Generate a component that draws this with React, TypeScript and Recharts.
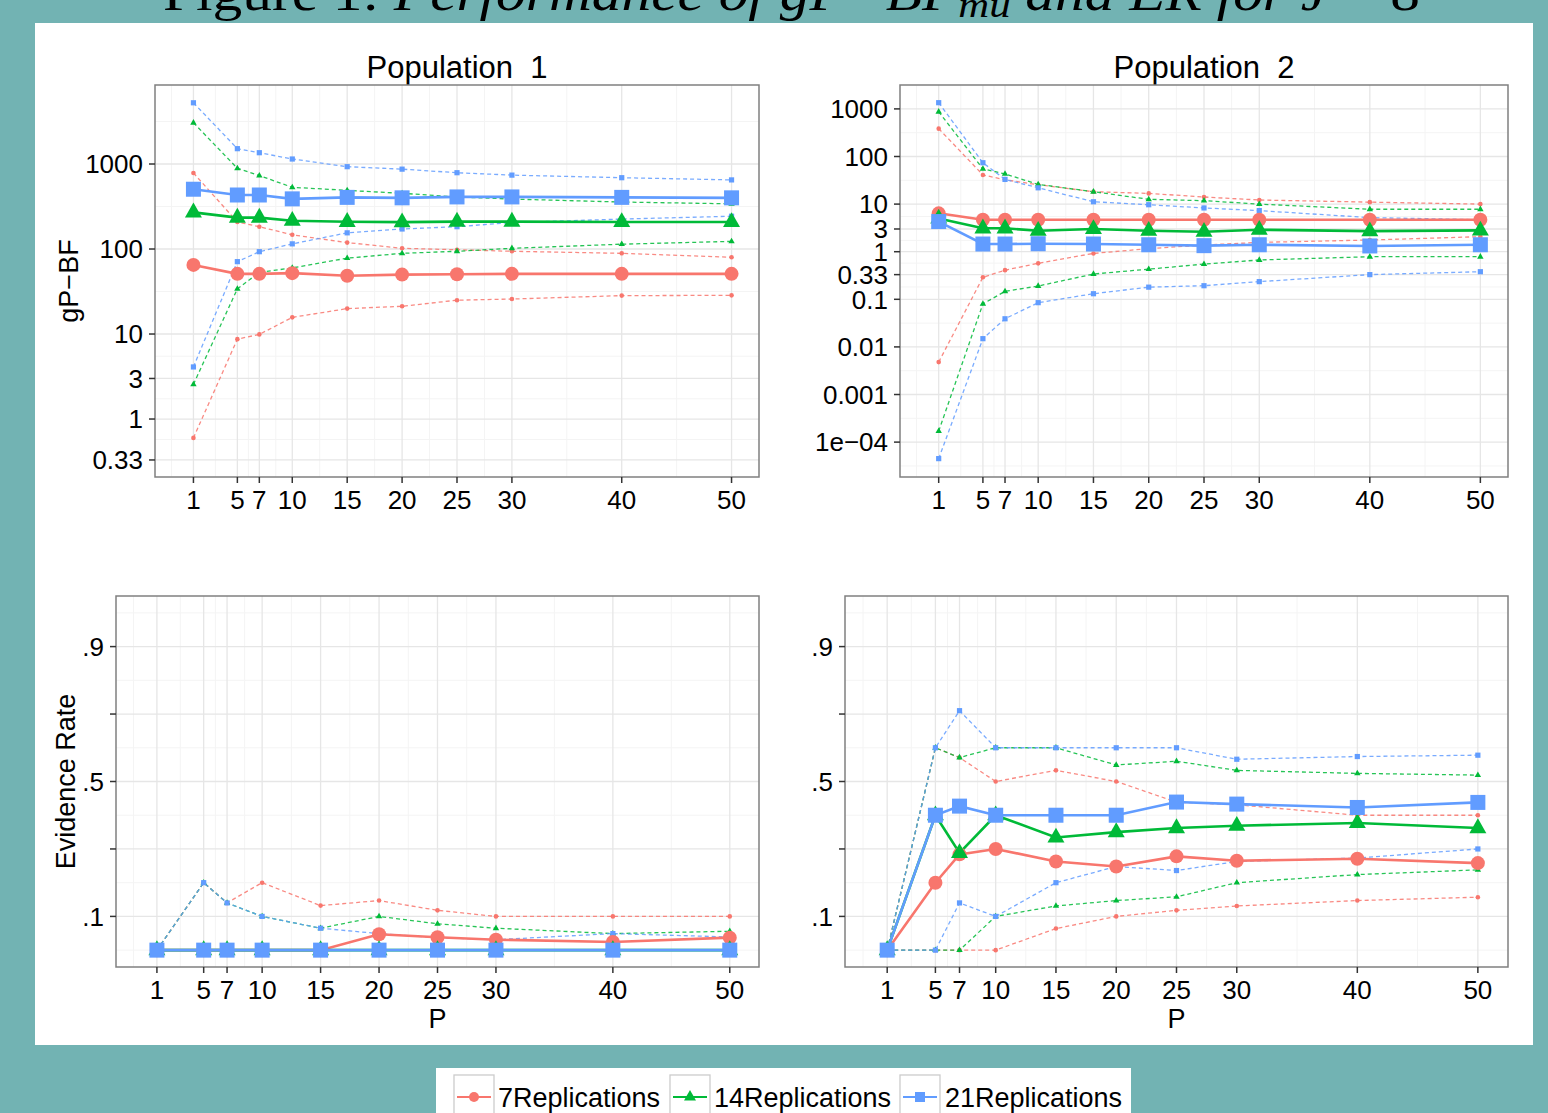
import React from "react";
import {
  LineChart,
  Line,
  XAxis,
  YAxis,
  CartesianGrid,
  ReferenceArea,
} from "recharts";

const FONT = '"Liberation Sans", Arial, Helvetica, sans-serif';
const TEAL = "#72B3B3";

const P = [1, 5, 7, 10, 15, 20, 25, 30, 40, 50];
const X_MINOR = [-1, 3, 6, 8.5, 12.5, 17.5, 22.5, 27.5, 35, 45];

const REPS = ["7Replications", "14Replications", "21Replications"];
const COLORS = ["#F8766D", "#00BA38", "#619CFF"];

// Population 1, gP-BF
const bf1Med7 = [65, 51, 51, 52, 48.5, 50, 50.5, 51, 51, 51];
const bf1Lo7 = [0.6, 8.7, 9.9, 15.7, 19.9, 21.2, 25, 25.8, 28.3, 28.5];
const bf1Hi7 = [784, 208, 183, 147, 119, 102, 98, 94, 89, 80];
const bf1Med14 = [270, 234, 234, 215, 209, 207, 210, 210, 208, 208];
const bf1Lo14 = [2.56, 34, 53, 60, 78, 89, 94, 102, 114, 123];
const bf1Hi14 = [3060, 890, 730, 532, 490, 452, 410, 387, 357, 340];
const bf1Med21 = [505, 432, 432, 389, 405, 400, 410, 410, 405, 400];
const bf1Lo21 = [4.1, 71, 93, 115, 155, 172, 183, 205, 225, 243];
const bf1Hi21 = [5250, 1515, 1358, 1145, 930, 870, 790, 740, 690, 650];

// Population 2, gP-BF
const bf2Med7 = [6.4, 4.7, 4.7, 4.7, 4.7, 4.7, 4.7, 4.7, 4.7, 4.7];
const bf2Lo7 = [0.0048, 0.29, 0.41, 0.57, 0.92, 1.16, 1.38, 1.57, 1.76, 2.07];
const bf2Hi7 = [385, 41, 32.5, 25.5, 18.2, 16.8, 14.1, 12.2, 11, 10];
const bf2Med14 = [5.0, 3.1, 3.1, 2.76, 3.0, 2.76, 2.63, 2.9, 2.7, 2.8];
const bf2Lo14 = [0.00017, 0.08, 0.147, 0.19, 0.34, 0.43, 0.55, 0.67, 0.785, 0.785];
const bf2Hi14 = [870, 55, 43, 26, 18.2, 12.6, 11.8, 10, 7.8, 7.8];
const bf2Med21 = [4.3, 1.45, 1.45, 1.47, 1.45, 1.4, 1.34, 1.4, 1.32, 1.4];
const bf2Lo21 = [0.000045, 0.0149, 0.039, 0.085, 0.131, 0.18, 0.193, 0.235, 0.33, 0.38];
const bf2Hi21 = [1350, 74, 33, 22, 11.2, 9.7, 8.3, 7.3, 5.2, 4.7];

// Population 1, evidence rate
const er1Med7 = [0, 0, 0, 0, 0, 0.047, 0.038, 0.031, 0.024, 0.037];
const er1Lo7 = [0, 0, 0, 0, 0, 0, 0, 0, 0, 0];
const er1Hi7 = [0, 0.2, 0.14, 0.2, 0.132, 0.147, 0.118, 0.1, 0.1, 0.1];
const er1Med14 = [0, 0, 0, 0, 0, 0, 0, 0, 0, 0];
const er1Lo14 = [0, 0, 0, 0, 0, 0, 0, 0, 0, 0];
const er1Hi14 = [0, 0.2, 0.14, 0.1, 0.065, 0.1, 0.078, 0.065, 0.049, 0.056];
const er1Med21 = [0, 0, 0, 0, 0, 0, 0, 0, 0, 0];
const er1Lo21 = [0, 0, 0, 0, 0, 0, 0, 0, 0, 0];
const er1Hi21 = [0, 0.2, 0.14, 0.1, 0.065, 0.049, 0.037, 0.031, 0.049, 0.039];

// Population 2, evidence rate
const er2Med7 = [0, 0.2, 0.284, 0.3, 0.263, 0.248, 0.278, 0.265, 0.271, 0.258];
const er2Lo7 = [0, 0, 0, 0, 0.064, 0.1, 0.118, 0.131, 0.147, 0.157];
const er2Hi7 = [0, 0.6, 0.571, 0.5, 0.533, 0.5, 0.439, 0.431, 0.4, 0.4];
const er2Med14 = [0, 0.4, 0.288, 0.4, 0.334, 0.35, 0.362, 0.369, 0.377, 0.362];
const er2Lo14 = [0, 0, 0, 0.1, 0.131, 0.147, 0.158, 0.2, 0.224, 0.238];
const er2Hi14 = [0, 0.6, 0.571, 0.6, 0.6, 0.549, 0.56, 0.533, 0.524, 0.519];
const er2Med21 = [0, 0.4, 0.427, 0.4, 0.4, 0.4, 0.439, 0.433, 0.423, 0.438];
const er2Lo21 = [0, 0, 0.14, 0.1, 0.2, 0.248, 0.236, 0.263, 0.273, 0.3];
const er2Hi21 = [0, 0.6, 0.71, 0.6, 0.6, 0.6, 0.6, 0.566, 0.574, 0.578];

// y axes
const BF1_TICKS = [0.33, 1, 3, 10, 100, 1000];
const BF1_MINOR = [0.575, 1.73, 5.48, 31.6, 316, 3162];
const BF2_TICKS = [0.0001, 0.001, 0.01, 0.1, 0.33, 1, 3, 10, 100, 1000];
const BF2_MINOR = [0.0000316, 0.000316, 0.00316, 0.0316, 0.182, 0.575, 1.73, 5.48, 31.6, 316];
const ER_TICKS = [0.1, 0.3, 0.5, 0.7, 0.9];
const ER_MINOR = [0, 0.2, 0.4, 0.6, 0.8, 1.0];

const bfLabel = (v: number) => (v === 0.0001 ? "1e\u221204" : String(v));
const erLabel = (v: number) =>
  v === 0.3 || v === 0.7 ? "" : "." + Math.round(v * 10);

type Stats = { med: number[]; lo: number[]; hi: number[] };

function buildRows(sets: Stats[]) {
  return P.map((p, i) => {
    const row: Record<string, number> = { p };
    sets.forEach((s, k) => {
      row["med" + k] = s.med[i];
      row["lo" + k] = s.lo[i];
      row["hi" + k] = s.hi[i];
    });
    return row;
  });
}

const BIG = [7, 8.5, 7.5];
const SMALL = [2.3, 3.2, 2.6];

function Glyph({ kind, x, y, s, color }: any) {
  if (kind === 0) return <circle cx={x} cy={y} r={s} fill={color} />;
  if (kind === 1)
    return (
      <polygon
        points={`${x},${y - s * 1.15} ${x - s},${y + s * 0.6} ${x + s},${y + s * 0.6}`}
        fill={color}
      />
    );
  return <rect x={x - s} y={y - s} width={2 * s} height={2 * s} fill={color} />;
}

function dotFor(kind: number, big: boolean) {
  return (props: any) => {
    const { cx, cy, index } = props;
    const key = `g-${kind}-${big ? "b" : "s"}-${index}`;
    if (cx == null || cy == null || isNaN(cx) || isNaN(cy)) return <g key={key} />;
    return (
      <Glyph
        key={key}
        kind={kind}
        x={cx}
        y={cy}
        s={big ? BIG[kind] : SMALL[kind]}
        color={COLORS[kind]}
      />
    );
  };
}

const M = 5;

function Panel({
  box,
  rows,
  log,
  yDomain,
  yTicks,
  yMinor,
  yFmt,
  yAxisW,
  yTitle,
  xTitle,
  xAxisH,
}: any) {
  const [x0, y0, x1, y1] = box;
  const width = x1 - x0 + yAxisW + 2 * M;
  const height = y1 - y0 + xAxisH + 2 * M;
  const tickStyle = { fontSize: 26, fill: "#000", fontFamily: FONT };
  return (
    <div
      style={{
        position: "absolute",
        left: x0 - yAxisW - M,
        top: y0 - M,
        width,
        height,
      }}
    >
      <LineChart
        width={width}
        height={height}
        data={rows}
        margin={{ top: M, right: M, bottom: M, left: M }}
      >
        <CartesianGrid
          stroke="#F4F4F4"
          strokeWidth={1}
          horizontalValues={yMinor}
          verticalValues={X_MINOR}
        />
        <CartesianGrid
          stroke="#E6E6E6"
          strokeWidth={1.3}
          horizontalValues={yTicks}
          verticalValues={P}
        />
        <XAxis
          dataKey="p"
          type="number"
          domain={[-2.5, 52.5]}
          allowDataOverflow
          ticks={P}
          interval={0}
          tickSize={6}
          tickMargin={8}
          axisLine={false}
          tickLine={{ stroke: "#333", strokeWidth: 1.5 }}
          tick={tickStyle}
          height={xAxisH}
          label={
            xTitle
              ? { value: xTitle, position: "center", fontSize: 27, fill: "#000", fontFamily: FONT, dy: 2 }
              : undefined
          }
        />
        <YAxis
          type="number"
          scale={log ? "log" : "linear"}
          domain={yDomain}
          allowDataOverflow
          ticks={yTicks}
          interval={0}
          tickFormatter={yFmt}
          tickSize={6}
          tickMargin={6}
          axisLine={false}
          tickLine={{ stroke: "#333", strokeWidth: 1.5 }}
          tick={tickStyle}
          width={yAxisW}
          label={
            yTitle
              ? {
                  value: yTitle,
                  angle: -90,
                  position: "center",
                  fontSize: 27,
                  fill: "#000",
                  fontFamily: FONT,
                }
              : undefined
          }
        />
        {[0, 1, 2].map((k) =>
          ["lo", "hi"].map((q) => (
            <Line
              key={q + k}
              type="linear"
              dataKey={q + k}
              stroke={COLORS[k]}
              strokeWidth={1.3}
              strokeDasharray="4 3"
              strokeOpacity={0.85}
              dot={dotFor(k, false)}
              activeDot={false}
              isAnimationActive={false}
            />
          ))
        )}
        {[0, 1, 2].map((k) => (
          <Line
            key={"med" + k}
            type="linear"
            dataKey={"med" + k}
            stroke={COLORS[k]}
            strokeWidth={2.6}
            dot={dotFor(k, true)}
            activeDot={false}
            isAnimationActive={false}
          />
        ))}
        <ReferenceArea
          x1={-2.5}
          x2={52.5}
          y1={yDomain[0]}
          y2={yDomain[1]}
          fill="none"
          fillOpacity={0}
          stroke="#808080"
          strokeWidth={1.5}
        />
      </LineChart>
    </div>
  );
}

const rowsBF1 = buildRows([
  { med: bf1Med7, lo: bf1Lo7, hi: bf1Hi7 },
  { med: bf1Med14, lo: bf1Lo14, hi: bf1Hi14 },
  { med: bf1Med21, lo: bf1Lo21, hi: bf1Hi21 },
]);
const rowsBF2 = buildRows([
  { med: bf2Med7, lo: bf2Lo7, hi: bf2Hi7 },
  { med: bf2Med14, lo: bf2Lo14, hi: bf2Hi14 },
  { med: bf2Med21, lo: bf2Lo21, hi: bf2Hi21 },
]);
const rowsER1 = buildRows([
  { med: er1Med7, lo: er1Lo7, hi: er1Hi7 },
  { med: er1Med14, lo: er1Lo14, hi: er1Hi14 },
  { med: er1Med21, lo: er1Lo21, hi: er1Hi21 },
]);
const rowsER2 = buildRows([
  { med: er2Med7, lo: er2Lo7, hi: er2Hi7 },
  { med: er2Med14, lo: er2Lo14, hi: er2Hi14 },
  { med: er2Med21, lo: er2Lo21, hi: er2Hi21 },
]);

const LEGEND_KEYS = [454, 670, 900];
const LEGEND_TEXT = [498, 714, 945];

export default function App() {
  return (
    <div
      style={{
        position: "absolute",
        left: 0,
        top: 0,
        width: 1548,
        height: 1113,
        overflow: "hidden",
        fontFamily: FONT,
      }}
    >
      <svg
        width={1548}
        height={1113}
        style={{ position: "absolute", left: 0, top: 0 }}
      >
        <rect width={1548} height={1113} fill={TEAL} />
        <rect x={35} y={23} width={1498} height={1022} fill="#fff" />
        <text
          x={163}
          y={10}
          fontFamily='"Liberation Serif", "DejaVu Serif", serif'
          fontSize={50}
          fill="#000"
          textLength={1257}
          lengthAdjust="spacingAndGlyphs"
        >
          <tspan>Figure 1: </tspan>
          <tspan fontStyle="italic">Performance of gP−BF</tspan>
          <tspan fontStyle="italic" fontSize={36} dy={7}>mu</tspan>
          <tspan fontStyle="italic" dy={-7}> and ER for J</tspan>
          <tspan> = 8</tspan>
        </text>
        <text x={457} y={78} textAnchor="middle" fontSize={31} fill="#000">
          {"Population\u00A0\u00A01"}
        </text>
        <text x={1204} y={78} textAnchor="middle" fontSize={31} fill="#000">
          {"Population\u00A0\u00A02"}
        </text>
        <rect x={436} y={1068} width={695} height={60} fill="#fff" />
        {REPS.map((name, k) => {
          const kx = LEGEND_KEYS[k];
          return (
            <g key={name}>
              <rect
                x={kx}
                y={1075}
                width={40}
                height={42}
                fill="#fff"
                stroke="#CCCCCC"
                strokeWidth={1.3}
              />
              <line
                x1={kx + 3}
                x2={kx + 37}
                y1={1097}
                y2={1097}
                stroke={COLORS[k]}
                strokeWidth={2}
              />
              <Glyph kind={k} x={kx + 20} y={1097} s={[5, 6, 5][k]} color={COLORS[k]} />
              <text x={LEGEND_TEXT[k]} y={1107} fontSize={27} fill="#000">
                {name}
              </text>
            </g>
          );
        })}
      </svg>

      <Panel
        box={[155, 85, 759, 477]}
        rows={rowsBF1}
        log
        yDomain={[0.208, 8500]}
        yTicks={BF1_TICKS}
        yMinor={BF1_MINOR}
        yFmt={bfLabel}
        yAxisW={174}
        yTitle={"gP\u2212BF"}
        xAxisH={50}
      />
      <Panel
        box={[900, 85, 1508, 477]}
        rows={rowsBF2}
        log
        yDomain={[0.0000185, 3177]}
        yTicks={BF2_TICKS}
        yMinor={BF2_MINOR}
        yFmt={bfLabel}
        yAxisW={120}
        xAxisH={50}
      />
      <Panel
        box={[116, 596, 759, 967]}
        rows={rowsER1}
        yDomain={[-0.05, 1.05]}
        yTicks={ER_TICKS}
        yMinor={ER_MINOR}
        yFmt={erLabel}
        yAxisW={102}
        yTitle="Evidence Rate"
        xTitle="P"
        xAxisH={98}
      />
      <Panel
        box={[845, 596, 1508, 967]}
        rows={rowsER2}
        yDomain={[-0.05, 1.05]}
        yTicks={ER_TICKS}
        yMinor={ER_MINOR}
        yFmt={erLabel}
        yAxisW={80}
        xTitle="P"
        xAxisH={98}
      />
    </div>
  );
}
